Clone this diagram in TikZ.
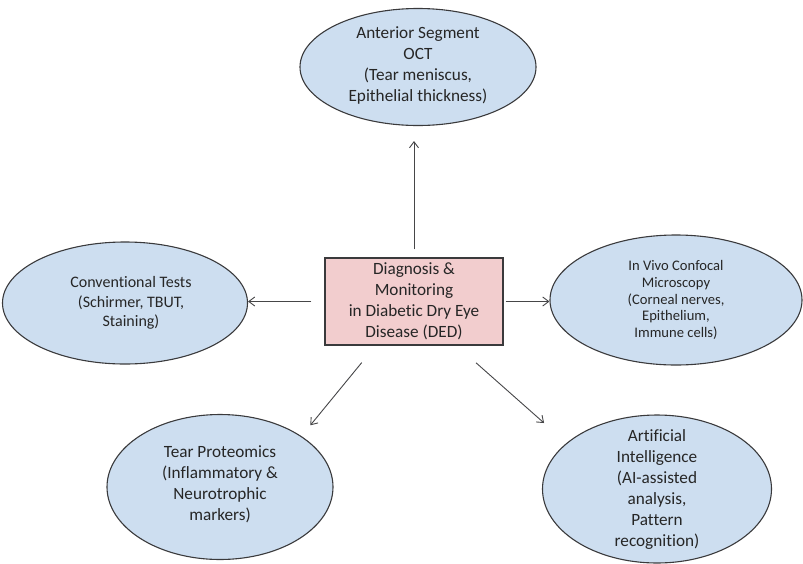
\documentclass[tikz,border=0pt]{standalone}
\usepackage{fontspec}
\setmainfont{Carlito}[Ligatures=NoCommon]
\usepackage{tikz}
\usetikzlibrary{arrows.meta,positioning,shapes.geometric,calc}
\usepackage{xcolor}
\definecolor{bubbleblue}{RGB}{205,222,240}
\definecolor{hubpink}{RGB}{242,205,206}
\definecolor{edgegray}{RGB}{58,58,60}
\definecolor{arrowgray}{RGB}{70,70,72}
\newcommand{\bubblefont}{\fontsize{17.2}{21}\selectfont}
\newcommand{\midbubblefont}{\fontsize{16}{19.3}\selectfont}
\newcommand{\smallbubblefont}{\fontsize{14.6}{16.8}\selectfont}
\tikzset{
  bubble/.style={ellipse,draw=edgegray,fill=bubbleblue,line width=1.1pt,inner sep=0pt},
  bubbletext/.style={align=center,font=\bubblefont,text=black!85,inner sep=0pt},
  hubbox/.style={rectangle,draw=edgegray,fill=hubpink,line width=1.1pt,align=center,
    font=\bubblefont,text=black!85,inner sep=2pt},
  link/.style={-{Straight Barb[length=6pt,width=9pt]},line width=0.9pt,draw=arrowgray}
}
\begin{document}
\begin{tikzpicture}[x=1pt,y=-1pt]
  \useasboundingbox (0,0) rectangle (803,563);
  \node[hubbox,minimum width=178pt,minimum height=87pt] (hub) at (414,301.5)
    {Diagnosis \&\\Monitoring\\in Diabetic Dry Eye\\Disease (DED)};

  \node[bubble,minimum width=236pt,minimum height=117pt] (oct) at (418,67) {};
  \node[bubble,minimum width=245pt,minimum height=122pt] (conv) at (125,303) {};
  \node[bubble,minimum width=252pt,minimum height=130pt] (ivcm) at (676,300) {};
  \node[bubble,minimum width=226pt,minimum height=145pt] (pro) at (220,487) {};
  \node[bubble,minimum width=229pt,minimum height=148pt] (ai) at (657,489) {};

  \node[bubbletext] (octtxt) at ([yshift=2pt]oct) {Anterior Segment\\OCT\\(Tear meniscus,\\Epithelial thickness)};
  \node[bubbletext,font=\midbubblefont] (convtxt) at ([xshift=6pt]conv) {Conventional Tests\\(Schirmer, TBUT,\\Staining)};
  \node[bubbletext,font=\smallbubblefont] (ivcmtxt) at (ivcm) {In Vivo Confocal\\Microscopy\\(Corneal nerves,\\Epithelium,\\Immune cells)};
  \node[bubbletext] (protxt) at ([yshift=3pt]pro) {Tear Proteomics\\(Inflammatory \&\\Neurotrophic\\markers)};
  \node[bubbletext] (aitxt) at (ai) {Artificial\\Intelligence\\(AI-assisted\\analysis,\\Pattern\\recognition)};

  \draw[link,shorten <=8pt,shorten >=15pt] (hub.north) -- (hub.north |- oct.south);
  \draw[link,shorten <=13pt] (hub.west) -- (hub.west -| conv.east);
  \draw[link,shorten <=2pt] (hub.east) -- (hub.east -| ivcm.west);
  \draw[link,shorten <=22pt,shorten >=14pt] (hub.-131) -- (pro.32);
  \draw[link,shorten <=26pt,shorten >=30pt] (hub.-46) -- (ai.153);
\end{tikzpicture}
\end{document}
